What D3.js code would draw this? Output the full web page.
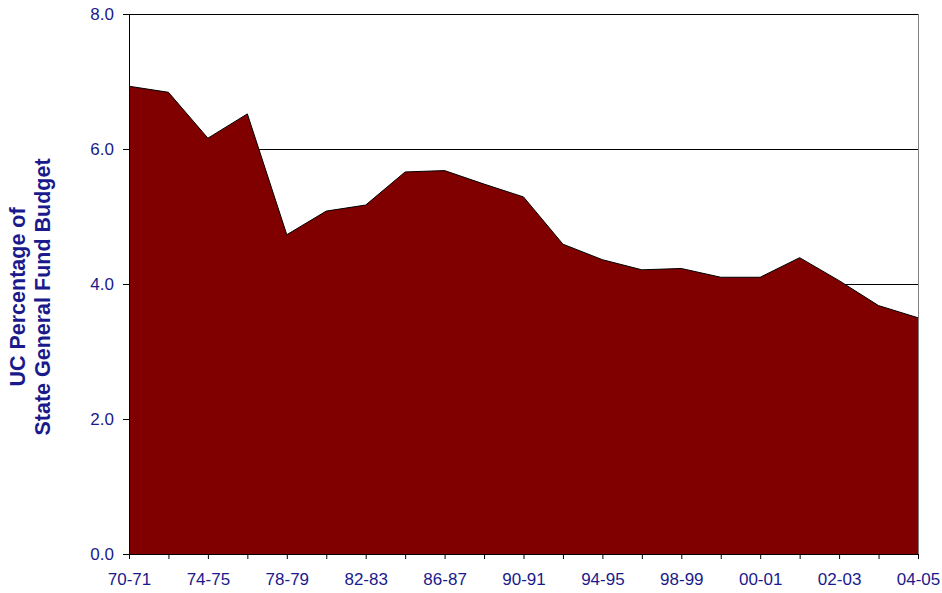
<!DOCTYPE html>
<html>
<head>
<meta charset="utf-8">
<script src="https://cdn.jsdelivr.net/npm/d3@7"></script>
<style>
  body { margin: 0; background: #fff; }
  .axis text { font-family: "Liberation Sans", Arial, sans-serif; font-size: 17px; fill: #1a1a8c; }
</style>
</head>
<body>
<script>
// Chart size
var w = 942;
var h = 593;
var margin = {top: 14, right: 24, bottom: 39, left: 129};

// Data
var years = ["70-71", "72-73", "74-75", "76-77", "78-79", "80-81", "82-83", "84-85",
             "86-87", "88-89", "90-91", "92-93", "94-95", "96-97", "98-99", "99-00",
             "00-01", "01-02", "02-03", "03-04", "04-05"];
var ucShare = [6.93, 6.84, 6.16, 6.52, 4.73, 5.08, 5.17, 5.66,
               5.68, 5.48, 5.29, 4.59, 4.36, 4.21, 4.23, 4.10,
               4.10, 4.39, 4.05, 3.68, 3.50];
var labelYears = ["70-71", "74-75", "78-79", "82-83", "86-87", "90-91",
                  "94-95", "98-99", "00-01", "02-03", "04-05"];
var yTicks = [0, 2, 4, 6, 8];

var data = years.map(function(d, i) { return {year: d, value: ucShare[i]}; });

// Scales
var xScale = d3.scalePoint()
    .domain(years)
    .range([margin.left, w - margin.right]);

var yScale = d3.scaleLinear()
    .domain([0, 8])
    .range([h - margin.bottom, margin.top]);

var svg = d3.select("body")
    .append("svg")
    .attr("width", w)
    .attr("height", h);

// Gridlines
svg.append("g")
    .selectAll("line")
    .data(yTicks.slice(1))
    .enter().append("line")
    .attr("x1", margin.left)
    .attr("x2", w - margin.right)
    .attr("y1", function(d) { return yScale(d) + 0.5; })
    .attr("y2", function(d) { return yScale(d) + 0.5; })
    .style("stroke", "#000")
    .style("stroke-width", 1);

// Right border
svg.append("line")
    .attr("x1", w - margin.right + 0.5)
    .attr("x2", w - margin.right + 0.5)
    .attr("y1", margin.top)
    .attr("y2", h - margin.bottom)
    .style("stroke", "#808080");

// Area
var area = d3.area()
    .x(function(d) { return xScale(d.year); })
    .y0(yScale(0))
    .y1(function(d) { return yScale(d.value); });

svg.append("path")
    .datum(data)
    .attr("d", area)
    .style("fill", "#800000")
    .style("stroke", "none");

var line = d3.line()
    .x(function(d) { return xScale(d.year); })
    .y(function(d) { return yScale(d.value); });

svg.append("path")
    .datum(data)
    .attr("d", line)
    .style("fill", "none")
    .style("stroke", "#000")
    .style("stroke-width", 1);

// X axis
var xAxis = d3.axisBottom(xScale)
    .tickSize(5)
    .tickPadding(14)
    .tickFormat(function(d) { return labelYears.indexOf(d) >= 0 ? d : ""; });

var gx = svg.append("g")
    .attr("class", "axis")
    .attr("transform", "translate(0," + (h - margin.bottom) + ")")
    .call(xAxis);
gx.select(".domain").attr("d", "M" + (margin.left - 5) + ",0.5H" + (w - margin.right + 0.5));
gx.selectAll("line").style("stroke", "#000");

// Y axis
var yAxis = d3.axisLeft(yScale)
    .tickValues(yTicks)
    .tickSize(6)
    .tickPadding(9)
    .tickFormat(d3.format(".1f"));

var gy = svg.append("g")
    .attr("class", "axis")
    .attr("transform", "translate(" + margin.left + ",0)")
    .call(yAxis);
gy.select(".domain").style("stroke", "#000");
gy.selectAll("line").style("stroke", "#000");

// Y axis title
var title = svg.append("text")
    .attr("transform", "translate(25,297) rotate(-90)")
    .style("text-anchor", "middle")
    .style("font-family", "Liberation Sans, Arial, sans-serif")
    .style("font-size", "21.5px")
    .style("font-weight", "bold")
    .style("fill", "#1a1a8c");
title.append("tspan").attr("x", 0).attr("dy", "0").text("UC Percentage of");
title.append("tspan").attr("x", 0).attr("dy", "25px").text("State General Fund Budget");
</script>
</body>
</html>
